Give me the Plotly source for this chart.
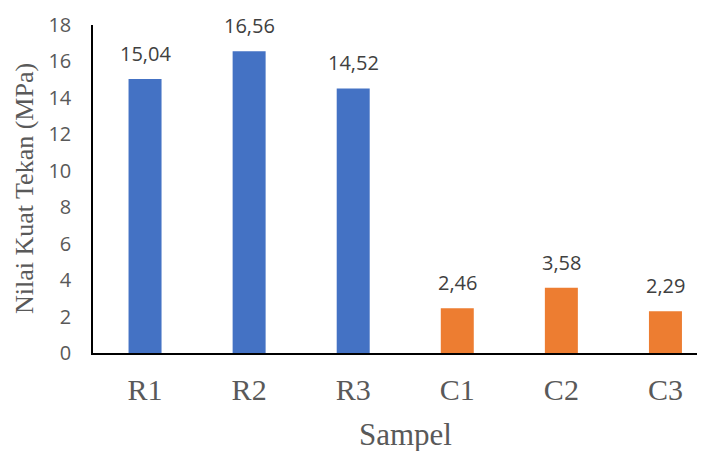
import plotly.graph_objects as go

categories = ["R1", "R2", "R3", "C1", "C2", "C3"]
values = [15.04, 16.56, 14.52, 2.46, 3.58, 2.29]
bar_colors = ["#4472C4", "#4472C4", "#4472C4", "#ED7D31", "#ED7D31", "#ED7D31"]
y_ticks = [0, 2, 4, 6, 8, 10, 12, 14, 16, 18]

x_pos = list(range(len(categories)))

fig = go.Figure()
fig.add_trace(go.Bar(
    x=x_pos, y=values, marker=dict(color=bar_colors, line=dict(width=0)),
    width=0.317, hoverinfo="skip",
))

annotations = []
for xi, v in zip(x_pos, values):
    annotations.append(dict(
        x=xi, y=v, xref="x", yref="y", text=f"{v:.2f}".replace(".", ","),
        showarrow=False, yanchor="bottom", yshift=10,
        font=dict(family="Open Sans", size=20, color="#404040"),
    ))
annotations.append(dict(
    x=(x_pos[0] + x_pos[-1]) / 2, y=0, xref="x", yref="paper", text="Sampel",
    showarrow=False, yanchor="top", yshift=-62,
    font=dict(family="Liberation Serif", size=31, color="#595959"),
))
annotations.append(dict(
    x=0, y=0.5, xref="paper", yref="paper", text="Nilai Kuat Tekan (MPa)",
    showarrow=False, textangle=-90, xanchor="center", xshift=-69,
    font=dict(family="Liberation Serif", size=26, color="#595959"),
))

# page body has an 8px default margin; compensate so the chart sits like the reference
fig.update_layout(
    width=697, height=443,
    margin=dict(l=85, r=0, t=17, b=98),
    paper_bgcolor="white", plot_bgcolor="white",
    showlegend=False,
    annotations=annotations,
    xaxis=dict(
        range=[-0.5, 5.38], tickvals=x_pos, ticktext=categories,
        showline=True, linecolor="black", linewidth=1.5,
        showgrid=False, zeroline=False, ticks="",
        tickfont=dict(family="Liberation Serif", size=30, color="#595959"),
        ticklabelstandoff=9,
    ),
    yaxis=dict(
        range=[0, 18], tickvals=y_ticks,
        showline=True, linecolor="black", linewidth=1.5,
        showgrid=False, zeroline=False, ticks="",
        tickfont=dict(family="Open Sans", size=20, color="#595959"),
        ticklabelstandoff=16,
    ),
)

fig.write_html("out.html")
